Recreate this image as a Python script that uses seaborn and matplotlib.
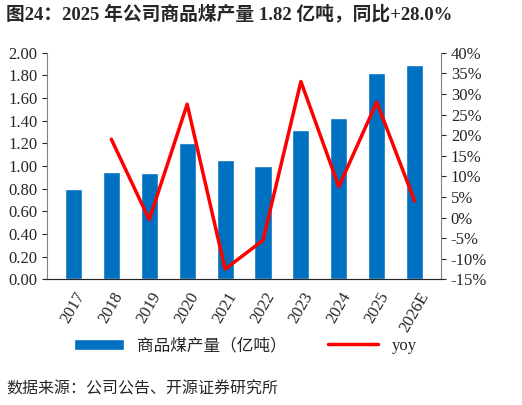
import numpy as np
import pandas as pd
import matplotlib.pyplot as plt
import seaborn as sns

years = ["2017", "2018", "2019", "2020", "2021", "2022", "2023", "2024", "2025", "2026E"]
output = [0.80, 0.95, 0.94, 1.20, 1.05, 1.00, 1.32, 1.42, 1.82, 1.89]
yoy = [np.nan, 19.0, -0.5, 27.5, -12.5, -5.5, 33.0, 7.5, 28.0, 4.0]

sns.set_style("white")
plt.rcParams['font.family'] = ['Liberation Serif', 'Noto Sans CJK SC']

df = pd.DataFrame({"year": years, "output": output, "yoy": yoy})

fig = plt.figure(figsize=(5.22, 4.05), dpi=100)
ax = fig.add_axes([0.09, 0.31, 0.755, 0.56])
sns.barplot(data=df, x="year", y="output", color="#0070C0", width=0.45, ax=ax,
            label="商品煤产量（亿吨）", saturation=1)
ax.set_ylim(0, 2.0)
ax.set_yticks(np.arange(0, 2.01, 0.2))
ax.set_yticklabels([f"{v:.2f}" for v in np.arange(0, 2.01, 0.2)], fontsize=12)
ax.set_xlabel("")
ax.set_ylabel("")
ax.tick_params(axis="x", labelsize=12, rotation=60)
for lab in ax.get_xticklabels():
    lab.set_ha("center")

ax2 = ax.twinx()
sns.lineplot(x=np.arange(len(years)), y=yoy, color="#FF0000", lw=2.5, ax=ax2, label="yoy")
ax2.set_ylim(-15, 40)
ax2.set_yticks(np.arange(-15, 41, 5))
ax2.set_yticklabels([f"{v}%" for v in range(-15, 41, 5)], fontsize=12)
ax2.legend_.remove()

for a in (ax, ax2):
    a.spines["top"].set_visible(False)
ax2.spines["left"].set_visible(False)
ax2.spines["right"].set_color("#808080")
ax.spines["left"].set_color("#808080")
ax.spines["bottom"].set_color("#808080")
ax.spines["right"].set_visible(False)

h1, l1 = ax.get_legend_handles_labels()
h2, l2 = ax2.get_legend_handles_labels()
if ax.legend_:
    ax.legend_.remove()
fig.legend(h1 + h2, l1 + l2, loc="center", bbox_to_anchor=(0.47, 0.145), ncol=2,
           frameon=False, handlelength=3, columnspacing=2.5,
           prop={"family": ["Liberation Serif", "Noto Sans CJK SC"], "size": 12})

fig.text(0.012, 0.965, "图24：2025 年公司商品煤产量 1.82 亿吨，同比+28.0%", fontsize=13.5,
         fontweight="bold", va="center", family=["Liberation Serif", "Noto Sans CJK SC"])
fig.text(0.012, 0.04, "数据来源：公司公告、开源证券研究所", fontsize=11.5, va="center",
         family=["Noto Sans CJK SC"])

fig.savefig("out.png", dpi=100)
